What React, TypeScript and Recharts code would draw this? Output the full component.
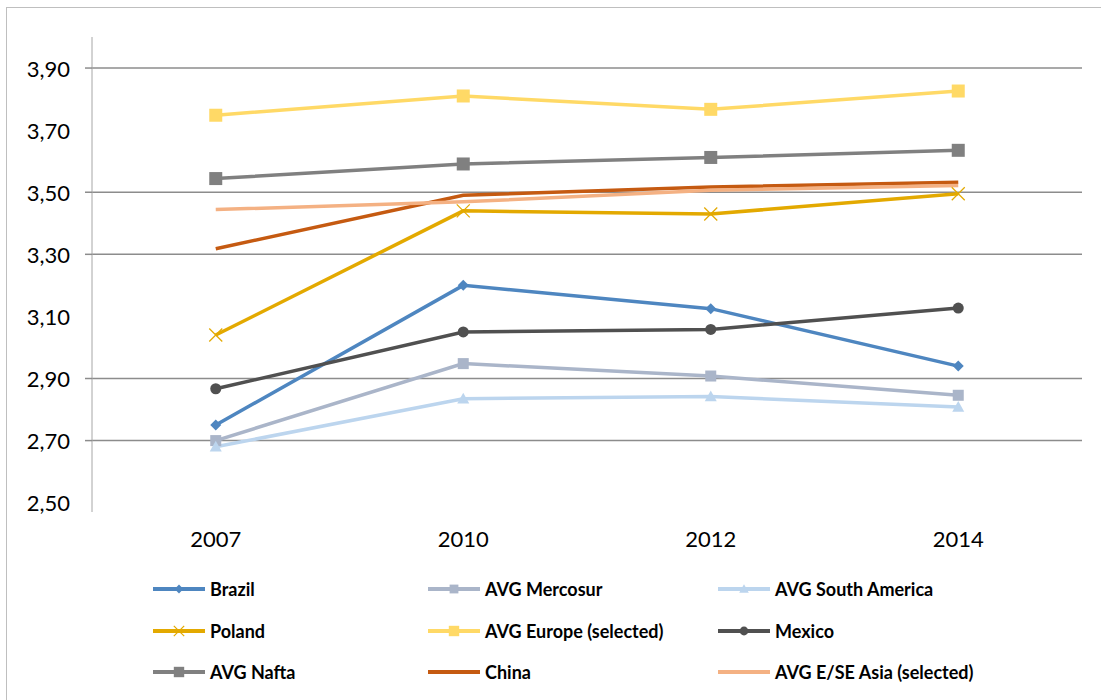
import React from 'react';
import { LineChart, Line, XAxis, YAxis, ReferenceLine } from 'recharts';

const YEARS = ['2007', '2010', '2012', '2014'];

const BRAZIL = [2.75, 3.2, 3.125, 2.94];
const MERCOSUR = [2.7, 2.948, 2.908, 2.846];
const SOUTH_AMERICA = [2.68, 2.835, 2.842, 2.808];
const POLAND = [3.04, 3.44, 3.43, 3.495];
const EUROPE = [3.748, 3.81, 3.767, 3.826];
const MEXICO = [2.867, 3.05, 3.058, 3.127];
const NAFTA = [3.544, 3.591, 3.612, 3.635];
const CHINA = [3.318, 3.49, 3.517, 3.532];
const ASIA = [3.444, 3.469, 3.506, 3.522];

const Y_TICKS = [2.5, 2.7, 2.9, 3.1, 3.3, 3.5, 3.7, 3.9];
// only these gridlines survive in the reference picture
const GRID_VALUES = [2.7, 2.9, 3.3, 3.5, 3.9];

type Marker = 'diamond' | 'square' | 'triangle' | 'x' | 'circle' | 'none';

const SERIES: { key: string; name: string; values: number[]; color: string; marker: Marker; size: number }[] = [
  { key: 'brazil', name: 'Brazil', values: BRAZIL, color: '#4e86c0', marker: 'diamond', size: 11 },
  { key: 'mercosur', name: 'AVG Mercosur', values: MERCOSUR, color: '#aab5c9', marker: 'square', size: 11 },
  { key: 'southAmerica', name: 'AVG South America', values: SOUTH_AMERICA, color: '#bcd5ee', marker: 'triangle', size: 12 },
  { key: 'poland', name: 'Poland', values: POLAND, color: '#e3a900', marker: 'x', size: 13 },
  { key: 'europe', name: 'AVG Europe (selected)', values: EUROPE, color: '#ffd966', marker: 'square', size: 13 },
  { key: 'mexico', name: 'Mexico', values: MEXICO, color: '#505050', marker: 'circle', size: 11 },
  { key: 'nafta', name: 'AVG Nafta', values: NAFTA, color: '#808080', marker: 'square', size: 13 },
  { key: 'china', name: 'China', values: CHINA, color: '#c55a11', marker: 'none', size: 0 },
  { key: 'asia', name: 'AVG E/SE Asia (selected)', values: ASIA, color: '#f4b183', marker: 'none', size: 0 },
];

const data = YEARS.map((year, i) => {
  const row: Record<string, string | number> = { year };
  SERIES.forEach((s) => {
    row[s.key] = s.values[i];
  });
  return row;
});

const FONT = 'Lato, "Noto Sans", sans-serif';

const MarkerShape = ({ cx, cy, marker, size, color }: { cx: number; cy: number; marker: Marker; size: number; color: string }) => {
  const h = size / 2;
  if (marker === 'square') return <rect x={cx - h} y={cy - h} width={size} height={size} fill={color} />;
  if (marker === 'circle') return <circle cx={cx} cy={cy} r={h} fill={color} />;
  if (marker === 'diamond')
    return <polygon points={`${cx},${cy - h} ${cx + h},${cy} ${cx},${cy + h} ${cx - h},${cy}`} fill={color} />;
  if (marker === 'triangle')
    return <polygon points={`${cx},${cy - h} ${cx + h},${cy + h * 0.8} ${cx - h},${cy + h * 0.8}`} fill={color} />;
  if (marker === 'x')
    return (
      <g stroke={color} strokeWidth={1.2}>
        <line x1={cx - h} y1={cy - h} x2={cx + h} y2={cy + h} />
        <line x1={cx - h} y1={cy + h} x2={cx + h} y2={cy - h} />
      </g>
    );
  return null;
};

const YTick = (props: any) => {
  const { x, y, payload } = props;
  const v = Number(payload.value);
  const showLine = GRID_VALUES.some((g) => Math.abs(g - v) < 1e-6);
  return (
    <g>
      <text x={x - 22} y={y} textAnchor="end" dominantBaseline="central" fontSize={22} fill="#000" fontFamily={FONT}>
        {v.toFixed(2).replace('.', ',')}
      </text>
      {showLine && <line x1={x - 7} x2={x} y1={y} y2={y} stroke="#8c8c8c" strokeWidth={1.5} />}
    </g>
  );
};

const LegendItem = ({ s }: { s: (typeof SERIES)[number] }) => (
  <div style={{ display: 'flex', alignItems: 'center', height: 24 }}>
    <svg width={57} height={20}>
      <line x1={0} x2={52} y1={10} y2={10} stroke={s.color} strokeWidth={4} />
      <MarkerShape cx={26} cy={10} marker={s.marker} size={s.size * 0.8} color={s.color} />
    </svg>
    <span style={{ fontFamily: FONT, fontWeight: 700, fontSize: 18, color: '#000', whiteSpace: 'nowrap' }}>{s.name}</span>
  </div>
);

export default function App() {
  const colLeft = [146, 421, 711];
  return (
    <div
      style={{
        position: 'absolute',
        left: 6,
        top: 7,
        width: 1094,
        height: 692,
        borderLeft: '1px solid #bfbfbf',
        borderTop: '1px solid #bfbfbf',
        background: '#fff',
      }}
    >
      <LineChart width={1094} height={560} data={data} margin={{ top: 29, right: 19, bottom: 16, left: 0 }}>
        <XAxis
          dataKey="year"
          scale="band"
          axisLine={false}
          tickLine={false}
          tickSize={0}
          tickMargin={19}
          height={40}
          tick={{ fontSize: 22, fill: '#000', fontFamily: FONT }}
        />
        <YAxis
          type="number"
          domain={[2.47, 4.0]}
          ticks={Y_TICKS}
          width={85}
          axisLine={{ stroke: '#a6a6a6', strokeWidth: 1 }}
          tickLine={false}
          tickSize={0}
          tickMargin={0}
          tick={<YTick />}
          interval={0}
        />
        {GRID_VALUES.map((v) => (
          <ReferenceLine key={v} y={v} stroke="#8c8c8c" strokeWidth={1.5} />
        ))}
        {SERIES.map((s) => (
          <Line
            key={s.key}
            dataKey={s.key}
            name={s.name}
            type="linear"
            stroke={s.color}
            strokeWidth={3.5}
            isAnimationActive={false}
            activeDot={false}
            dot={(p: any) => (
              <MarkerShape key={`${s.key}-${p.index}`} cx={p.cx} cy={p.cy} marker={s.marker} size={s.size} color={s.color} />
            )}
          />
        ))}
      </LineChart>
      {[0, 1, 2].map((row) => (
        <div key={row} style={{ position: 'absolute', top: 569 + row * 41.5, left: 0, width: '100%' }}>
          {[0, 1, 2].map((col) => {
            const s = SERIES[row * 3 + col];
            return (
              <div key={s.key} style={{ position: 'absolute', left: colLeft[col] }}>
                <LegendItem s={s} />
              </div>
            );
          })}
        </div>
      ))}
    </div>
  );
}
